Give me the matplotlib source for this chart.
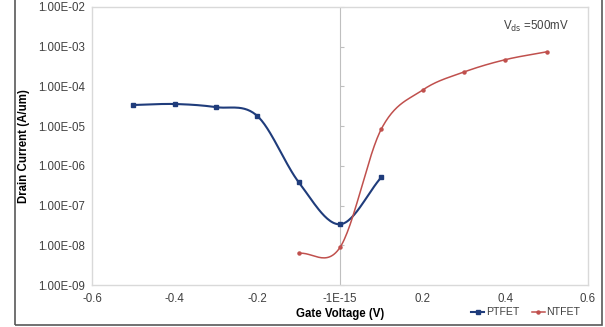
import matplotlib
matplotlib.use("Agg")
import matplotlib.pyplot as plt
import numpy as np
from matplotlib.patches import Rectangle
from matplotlib.ticker import FixedLocator, NullFormatter

plt.rcParams["font.family"] = ["Liberation Sans", "DejaVu Sans"]

# data
gate_p = [-0.5, -0.4, -0.3, -0.2, -0.1, 0.0, 0.1]
drain_p = [3.4e-5, 3.6e-5, 3.0e-5, 1.8e-5, 3.9e-7, 3.4e-8, 5.2e-7]
gate_n = [-0.1, 0.0, 0.1, 0.2, 0.3, 0.4, 0.5]
drain_n = [6.3e-9, 8.9e-9, 8.5e-6, 8.1e-5, 2.3e-4, 4.7e-4, 7.4e-4]

x_ticks = [-0.6, -0.4, -0.2, 0.0, 0.2, 0.4, 0.6]
x_tick_labels = ["-0.6", "-0.4", "-0.2", "-1E-15", "0.2", "0.4", "0.6"]
y_ticks = [1e-9, 1e-8, 1e-7, 1e-6, 1e-5, 1e-4, 1e-3, 1e-2]
y_tick_labels = ["1.00E-09", "1.00E-08", "1.00E-07", "1.00E-06",
                 "1.00E-05", "1.00E-04", "1.00E-03", "1.00E-02"]


def smooth(xs, ys, n=30):
    # catmull-rom through the points in (x, log y), like excel's smoothed line
    px = np.array(xs, dtype=float)
    py = np.log10(np.array(ys, dtype=float))
    px = np.concatenate([[2 * px[0] - px[1]], px, [2 * px[-1] - px[-2]]])
    py = np.concatenate([[2 * py[0] - py[1]], py, [2 * py[-1] - py[-2]]])
    out_x, out_y = [], []
    t = np.linspace(0, 1, n)
    for i in range(1, len(px) - 2):
        for arr, out in ((px, out_x), (py, out_y)):
            p0, p1, p2, p3 = arr[i - 1], arr[i], arr[i + 1], arr[i + 2]
            out.extend(0.5 * ((2 * p1) + (-p0 + p2) * t
                              + (2 * p0 - 5 * p1 + 4 * p2 - p3) * t ** 2
                              + (-p0 + 3 * p1 - 3 * p2 + p3) * t ** 3))
    return np.array(out_x), 10 ** np.array(out_y)


blue = "#1F3C7B"
red = "#C0504D"
grey = "#404040"

fig = plt.figure(figsize=(6.05, 3.27), dpi=100)
ax = fig.add_axes([0.152, 0.128, 0.820, 0.851])

sx, sy = smooth(gate_p, drain_p)
ax.plot(sx, sy, color=blue, lw=1.5, zorder=3)
ax.plot(gate_p, drain_p, "s", color=blue, ms=3.0, zorder=4)
sx, sy = smooth(gate_n, drain_n)
ax.plot(sx, sy, color=red, lw=1.1, zorder=3)
ax.plot(gate_n, drain_n, "o", color=red, ms=2.2, zorder=4)

ax.set_yscale("log")
ax.set_xlim(-0.6, 0.6)
ax.set_ylim(1e-9, 1e-2)
ax.set_xticks(x_ticks)
ax.set_xticklabels(x_tick_labels)
ax.yaxis.set_major_locator(FixedLocator(y_ticks))
ax.yaxis.set_minor_locator(FixedLocator([]))
ax.set_yticklabels(y_tick_labels)
ax.tick_params(length=0, labelsize=8.3, colors=grey, pad=5)
ax.tick_params(axis="x", pad=6)
for s in ax.spines.values():
    s.set_color("#D9D9D9")
    s.set_linewidth(1.0)

# vertical axis crossing at zero
ax.axvline(0, color="#BFBFBF", lw=0.8, zorder=1)
mid = ax.secondary_yaxis(0.5)
mid.yaxis.set_major_locator(FixedLocator(y_ticks))
mid.yaxis.set_minor_locator(FixedLocator([]))
mid.yaxis.set_major_formatter(NullFormatter())
mid.tick_params(length=3, color="#BFBFBF", width=0.8)
for s in mid.spines.values():
    s.set_visible(False)

ax.set_xlabel("Gate Voltage (V)", fontsize=8.3, fontweight="bold", labelpad=2)
ax.set_ylabel("Drain Current (A/um)", fontsize=8.3, fontweight="bold", labelpad=6)

ax.text(0.895, 0.928, r"V$_{\mathrm{ds}}$ =500mV", transform=ax.transAxes,
        fontsize=8.3, color=grey, ha="center", va="center")

handles = [plt.Line2D([], [], color=blue, lw=1.5, marker="s", ms=3.0),
           plt.Line2D([], [], color=red, lw=1.1, marker="o", ms=2.2)]
fig.legend(handles, ["PTFET", "NTFET"], loc="center right",
           bbox_to_anchor=(0.975, 0.045), ncol=2, frameon=False,
           fontsize=7.6, handlelength=1.25, handletextpad=0.15,
           columnspacing=1.15, labelcolor=grey)

fig.patches.append(Rectangle((0.024, 0.005), 0.971, 1.2, transform=fig.transFigure,
                             fill=False, edgecolor="#595959", lw=1.2))

fig.savefig("out.png", dpi=100)
